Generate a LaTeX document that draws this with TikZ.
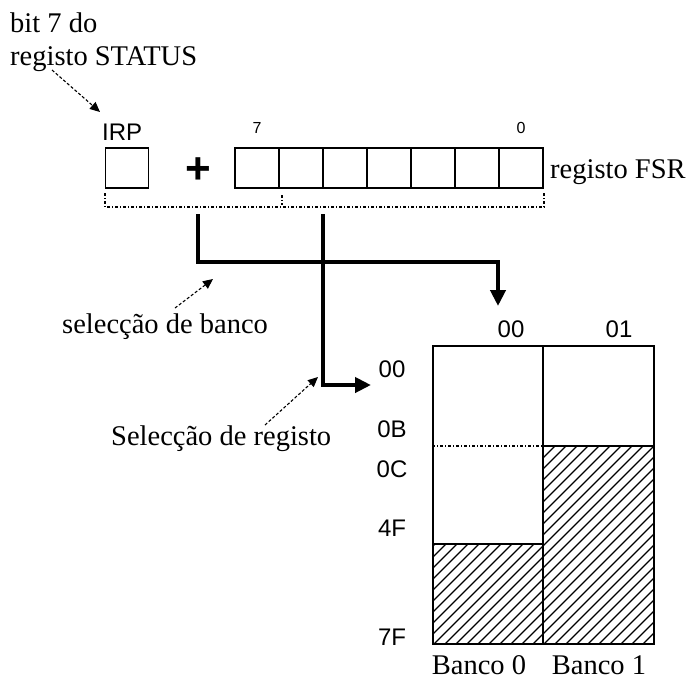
\documentclass[tikz,border=0pt]{standalone}
\usepackage{fontspec}
\setmainfont{Liberation Serif}
\setsansfont{Liberation Sans}
\usetikzlibrary{arrows.meta,positioning,calc}
\tikzset{
  cell/.style   ={draw, line width=1.3pt, minimum width=44pt,
                  minimum height=40pt, inner sep=0pt},
  memblk/.style ={draw, line width=1.3pt, minimum height=298pt, inner sep=0pt},
  lbl/.style    ={font=\fontsize{28.5}{30}\selectfont, inner sep=0pt},
  slbl/.style   ={font=\sffamily\fontsize{24}{26}\selectfont, inner sep=0pt},
  tlbl/.style   ={font=\sffamily\fontsize{16}{18}\selectfont, inner sep=0pt},
  busarr/.style ={line width=4pt, -{Triangle[length=16pt,width=15pt]}},
  notearr/.style={densely dashed, line width=1.1pt, -{Triangle[length=10pt,width=9pt]}},
  brack/.style  ={line width=1.6pt, dash pattern=on 3pt off 2pt on 1pt off 2pt},
  hatch/.style  ={line width=1.1pt},
}

\begin{document}
\begin{tikzpicture}[x=1pt,y=-1pt]
  \useasboundingbox (0,0) rectangle (691,681);
  %% registers
  \node[lbl, anchor=base west] (bit7) at (10,32) {bit 7 do};
  \node[lbl, anchor=base west] (stat) at (10,65) {registo STATUS};
  \node[cell, minimum width=43pt] (irp) at (127,168) {};
  \node[slbl, anchor=base west] (irpl) at (102,140) {IRP};
  \node[font=\sffamily\bfseries\fontsize{44}{44}\selectfont, inner sep=0pt] (plus) at (198,171) {+};
  \foreach \i in {0,...,6}
    \node[cell] (f\i) at (257+44*\i,168) {};
  \node[tlbl, anchor=base] (b7) at (f0.north |- 0,133) {7};
  \node[tlbl, anchor=base] (b0) at (f6.north |- 0,133) {0};
  \node[lbl, anchor=base west] (fsr) at (550,178) {registo FSR};
  %% dotted bracket
  \draw[brack] (105,193) -- (105,207) -- (544,207) -- (544,193);
  \draw[brack] (282,195) -- (282,205);
  \coordinate (bk) at (198,214);
  \coordinate (rg) at (323,214);
  %% memory map
  \node[memblk, minimum width=110pt] (bank0) at (488,495) {};
  \node[memblk, minimum width=111pt] (bank1) at (598.5,495) {};
  \coordinate (bkt) at (498,306);
  \coordinate (rgt) at (371,385);
  \begin{scope}
    \clip (433,544) rectangle (543,644);
    \foreach \s in {313,324,...,543}
      \draw[hatch] (\s,644) -- ++(120,-120);
  \end{scope}
  \begin{scope}
    \clip (543,446) rectangle (654,644);
    \foreach \s in {335,346,...,654}
      \draw[hatch] (\s,644) -- ++(210,-210);
  \end{scope}
  \draw[line width=1.3pt] (bank0.west |- 0,544) -- (bank0.east |- 0,544);
  \draw[line width=1.3pt] (bank1.west |- 0,446) -- (bank1.east |- 0,446);
  \draw[brack] (bank0.west |- 0,446) -- (bank0.east |- 0,446);
  \node[slbl, anchor=base] (c00) at (511,337) {00};
  \node[slbl, anchor=base] (c01) at (619,337) {01};
  \node[slbl, anchor=base] (r00) at (392,377) {00};
  \node[slbl, anchor=base] (r0B) at (392,437) {0B};
  \node[slbl, anchor=base] (r0C) at (392,477) {0C};
  \node[slbl, anchor=base] (r4F) at (392,536) {4F};
  \node[slbl, anchor=base] (r7F) at (392,645) {7F};
  \node[lbl, anchor=base] (nb0) at (479,674) {Banco 0};
  \node[lbl, anchor=base] (nb1) at (599,674) {Banco 1};
  %% selection paths
  \draw[busarr] (bk) -- ++(0,48) -| (bkt);
  \draw[busarr] (rg) |- (rgt);
  \node[lbl, anchor=base west] (selb) at (62,333) {selecção de banco};
  \node[lbl, anchor=base west] (selr) at (111,445) {Selecção de registo};
  \draw[notearr] (52,70) -- (100,112);
  \draw[notearr] (175,308) -- (213,279);
  \draw[notearr] (265,425) -- (318,377);
\end{tikzpicture}
\end{document}
